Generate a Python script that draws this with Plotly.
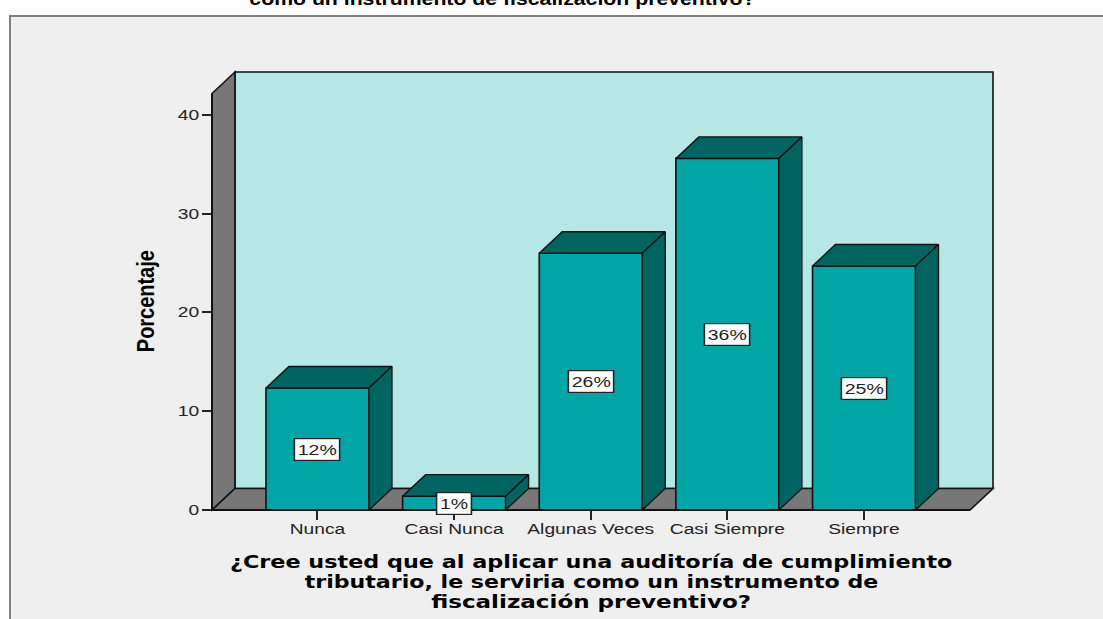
import plotly.graph_objects as go

categories = ["Nunca", "Casi Nunca", "Algunas Veces", "Casi Siempre", "Siempre"]
values = [12.35, 1.4, 26.0, 35.6, 24.7]
y_ticks = [0, 10, 20, 30, 40]
y_title = "Porcentaje"
x_title_lines = ["¿Cree usted que al aplicar una auditoría de cumplimiento",
                 "tributario, le serviria como un instrumento de",
                 "fiscalización preventivo?"]
top_title = "como un instrumento de fiscalización preventivo?"

FRONT, DARK, BACK, WALL, PANEL = "#00A5A5", "#006460", "#B5E7E7", "#777777", "#EFEFEF"
W, H = 1103, 619
L, R, T, B = 212, 993, 72, 510
BAR_W = 0.754
DX, DY = 0.168, 2.18
X0, X1 = -0.772, 4.944
Y0, Y1 = 0, 44.35
XF, YF = X1 - DX, Y1 - DY   # front-plane limits

px = lambda x: (x - X0) / (X1 - X0)
py = lambda y: (y - Y0) / (Y1 - Y0)
pfx = lambda p: (p - L) / (R - L)
pfy = lambda p: (B - p) / (B - T)


def path(pts):
    return "M " + " L ".join(f"{px(x):.5f} {py(y):.5f}" for x, y in pts) + " Z"


def poly_shape(pts, fill, layer="below", width=1.6):
    return dict(type="path", xref="paper", yref="paper", path=path(pts), fillcolor=fill,
                line=dict(color="#111111", width=width), layer=layer)


shapes = [
    dict(type="rect", xref="paper", yref="paper", x0=pfx(10), x1=pfx(W + 5), y0=pfy(16), y1=pfy(H + 20),
         layer="below", fillcolor=PANEL, line=dict(color="#808080", width=2)),
    poly_shape([(X0 + DX, DY), (X1, DY), (X1, Y1), (X0 + DX, Y1)], BACK),
    poly_shape([(X0, 0), (X0 + DX, DY), (X0 + DX, Y1), (X0, YF)], WALL),
    poly_shape([(X0, 0), (XF, 0), (X1, DY), (X0 + DX, DY)], WALL),
    dict(type="line", xref="paper", yref="paper", x0=px(X0), x1=px(XF), y0=py(0), y1=py(0),
         line=dict(color="#111111", width=2), layer="above"),
    dict(type="line", xref="paper", yref="paper", x0=px(X0), x1=px(X0), y0=py(0), y1=py(YF),
         line=dict(color="#111111", width=2), layer="above"),
]

fig = go.Figure()
fig.add_trace(go.Bar(x=list(range(len(values))), y=values, width=BAR_W, cliponaxis=False,
                     marker=dict(color=FRONT, line=dict(color="#111111", width=1.6)),
                     hoverinfo="skip", showlegend=False))

for i, v in enumerate(values):
    a, b = i - BAR_W / 2, i + BAR_W / 2
    for pts in ([(a, v), (b, v), (b + DX, v + DY), (a + DX, v + DY), (a, v)],
                [(b, 0), (b + DX, DY), (b + DX, v + DY), (b, v), (b, 0)]):
        fig.add_trace(go.Scatter(x=[p[0] for p in pts], y=[p[1] for p in pts], mode="lines", fill="toself",
                                 fillcolor=DARK, line=dict(color="#111111", width=1.4),
                                 hoverinfo="skip", showlegend=False))

annotations = [
    dict(x=i, y=v / 2, text=f"{round(v)}%", showarrow=False, bgcolor="white", bordercolor="#222222",
         borderwidth=1.2, borderpad=2, font=dict(family="Liberation Sans", size=15, color="#222222"))
    for i, v in enumerate(values)
]
annotations.append(dict(xref="paper", yref="paper", x=pfx(502), y=pfy(11), yanchor="bottom",
                        text=f"<b>{top_title}</b>", showarrow=False,
                        font=dict(family="Liberation Sans", size=19, color="black")))
for line, cy in zip(x_title_lines, [562, 582, 602]):
    annotations.append(dict(xref="paper", yref="paper", x=pfx(591), y=pfy(cy), yanchor="middle",
                            text=f"<b>{line}</b>", showarrow=False,
                            font=dict(family="DejaVu Sans", size=17, color="black")))
annotations.append(dict(xref="paper", yref="paper", x=pfx(146), y=pfy(301), textangle=-90,
                        xanchor="center", yanchor="middle",
                        text=f"<b>{y_title}</b>", showarrow=False,
                        font=dict(family="Liberation Sans", size=23, color="black")))

fig.update_layout(
    width=W, height=H, margin=dict(l=L, r=W - R, t=T, b=H - B, autoexpand=False),
    paper_bgcolor="white", plot_bgcolor="rgba(0,0,0,0)", shapes=shapes, annotations=annotations,
    font=dict(family="Liberation Sans", color="#222222"),
    xaxis=dict(range=[X0, X1], tickmode="array", tickvals=list(range(len(categories))), ticktext=categories,
               ticks="outside", ticklen=9, tickwidth=1.5, tickcolor="#222222", showgrid=False, zeroline=False,
               ticklabelstandoff=-3, tickfont=dict(size=14)),
    yaxis=dict(range=[Y0, Y1], tickmode="array", tickvals=y_ticks, ticks="outside", ticklen=9, tickwidth=1.5,
               tickcolor="#222222", showgrid=False, zeroline=False, tickfont=dict(size=14)),
)

# The reference image is stretched horizontally: widen the rendered text to match.
stretch_js = """
function st(el, sx, sy, mode) {
  var r = el.getBoundingClientRect();
  var cx = mode === 'right' ? r.right : (r.left + r.right) / 2, cy = (r.top + r.bottom) / 2;
  var old = el.getAttribute('transform') || '';
  el.setAttribute('transform', 'translate(' + cx + ',' + cy + ') scale(' + sx + ',' + sy + ') translate(' + (-cx) + ',' + (-cy) + ') ' + old);
}
function fitW(el, w) { st(el, w / el.getBoundingClientRect().width, 1); }
document.body.style.margin = '0';
document.querySelectorAll('.xtick text').forEach(function (e) { st(e, 1.37, 1); });
document.querySelectorAll('.ytick text').forEach(function (e) { st(e, 1.37, 1, 'right'); });
var ann = document.querySelectorAll('.annotation');
function g(i) { return ann[i].querySelector('.annotation-text-g'); }
for (var i = 0; i < 5; i++) st(g(i), 1.3, 1);
fitW(g(5), 510);
fitW(g(6), 727); fitW(g(7), 578); fitW(g(8), 324);
var yt = g(9); st(yt, 1, 105 / yt.getBoundingClientRect().height);
"""
fig.write_html("out.html", config=dict(displayModeBar=False), post_script=stretch_js)
